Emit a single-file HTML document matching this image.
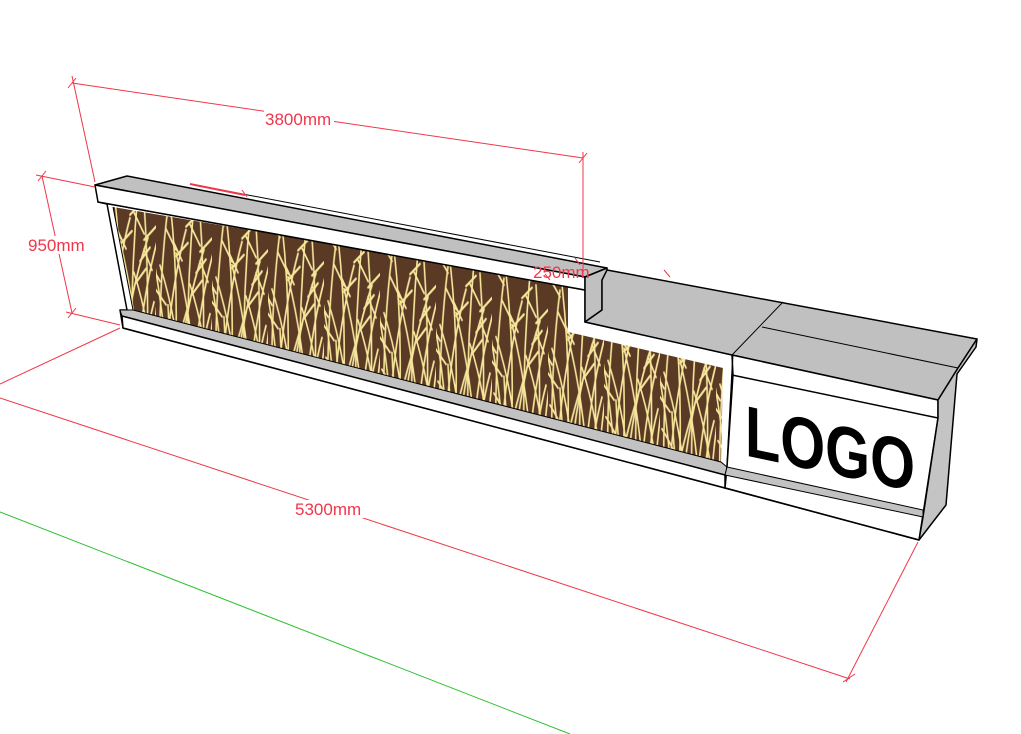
<!DOCTYPE html>
<html><head><meta charset="utf-8"><style>
html,body{margin:0;padding:0;background:#fff;width:1021px;height:734px;overflow:hidden}
svg{display:block}
.d{stroke:#f0364a;stroke-width:1;fill:none}
.t{fill:#f0364a;font-family:"Liberation Sans",sans-serif;font-size:17px}
.k{stroke:#000;stroke-width:1.5;stroke-linejoin:round}
</style></head><body>
<svg width="1021" height="734" viewBox="0 0 1021 734" xmlns="http://www.w3.org/2000/svg">
<defs>
<pattern id="grass" width="56" height="190" patternUnits="userSpaceOnUse" patternTransform="translate(100,180) skewY(12)">
<rect width="56" height="190" fill="#5a3a25"/>
<g transform="scale(1,1.58)" stroke="#f6e69a" stroke-width="1.6" fill="none" stroke-linecap="round">
<path d="M4 120 Q2 60 12 8"/><path d="M8 120 Q14 60 30 20"/><path d="M12 120 Q8 70 -8 26"/>
<path d="M18 120 Q24 60 14 4"/><path d="M22 120 Q28 70 48 30"/><path d="M26 120 Q22 80 4 46"/>
<path d="M32 120 Q30 60 38 2"/><path d="M36 120 Q42 66 60 24"/><path d="M40 120 Q36 76 20 36"/>
<path d="M46 120 Q50 64 44 8"/><path d="M50 120 Q54 76 64 44"/><path d="M54 120 Q50 84 34 54"/>
<path d="M30 120 Q18 96 2 82"/><path d="M48 120 Q58 96 70 86"/><path d="M14 120 Q20 94 34 64"/>
<path d="M42 120 Q44 96 54 70"/><path d="M6 120 Q0 104 -8 90"/><path d="M20 120 Q14 100 12 70"/>
<path d="M20 34 L10 22"/><path d="M20 38 L32 28"/><path d="M44 28 L34 16"/><path d="M44 32 L56 22"/>
<path d="M30 18 L40 10"/><path d="M4 56 L-6 46"/><path d="M52 50 L44 38"/><path d="M12 12 L4 4"/>
<path d="M36 60 L46 50"/><path d="M10 70 L0 62"/><path d="M26 40 L18 30"/><path d="M40 46 L50 36"/>
</g>
</pattern>
</defs>

<line x1="0" y1="512" x2="570" y2="734" stroke="#2ec02e" stroke-width="1"/>

<polygon class="k" fill="#fff" points="98,202 585,290 585,322 733,355 727,467 725,488 123,328 120,310 127,310 107,204"/>
<polygon points="113,207 568,284 568,332 723,368 721,462 133,310" fill="url(#grass)"/>
<polyline points="113,207 133,310" stroke="#000" stroke-width="1" fill="none"/>
<polygon fill="#c2c2c2" stroke="#000" stroke-width="1" points="120,310 133,310 721,462 727,467 725,475 122,316"/>
<polygon class="k" fill="#fff" points="122,316 725,475 725,488 123,328"/>

<polygon class="k" fill="#c0c0c0" points="95,185 127,176 607,268 585,277"/>
<polygon class="k" fill="#fff" points="95,185 585,277 585,290 98,202"/>
<polygon class="k" fill="#c0c0c0" points="585,277 607,268 607,272 602,280 602,310 585,322 585,290"/>
<line x1="190" y1="184" x2="600" y2="262" stroke="#000" stroke-width="1"/>

<polygon class="k" fill="#c0c0c0" points="585,322 602,310 602,280 607,270 977,339 958,368 938,400 732,355"/>
<line x1="783" y1="302" x2="732" y2="355" stroke="#000" stroke-width="1"/>
<line x1="762" y1="327" x2="958" y2="368" stroke="#000" stroke-width="1"/>

<polygon class="k" fill="#fff" points="732,355 938,400 938,418 919,540 725,488 727,467 733,375"/>
<line x1="732" y1="375" x2="938" y2="418" stroke="#000" stroke-width="1.5"/>
<polygon fill="#c2c2c2" stroke="#000" stroke-width="1" points="727,467 923,510 923,517 725,475"/>
<line x1="725" y1="488" x2="919" y2="540" stroke="#000" stroke-width="1.5"/>
<polygon class="k" fill="#c4c4c4" points="938,400 958,368 977,339 976,347 957,374 946,505 919,540 923,517 938,418"/>
<line x1="733" y1="355" x2="727" y2="467" stroke="#000" stroke-width="1"/>

<text x="745" y="455" font-family="Liberation Sans,sans-serif" font-weight="bold" font-size="72" textLength="170" lengthAdjust="spacingAndGlyphs" transform="skewY(12) translate(0,-158)" fill="#000">LOGO</text>

<line class="d" x1="72" y1="83" x2="583" y2="158"/>
<line class="d" x1="72" y1="76" x2="95" y2="182"/>
<line class="d" x1="583" y1="152" x2="583" y2="278"/>
<path class="d" d="M68 88 L76 78 M579 163 L587 153"/>
<rect x="264" y="110" width="70" height="18" fill="#fff"/>
<text class="t" x="265" y="125">3800mm</text>

<line class="d" x1="42" y1="176" x2="72" y2="313"/>
<line class="d" x1="36" y1="175" x2="95" y2="187"/>
<line class="d" x1="66" y1="312" x2="120" y2="325"/>
<path class="d" d="M38 181 L46 171 M68 318 L76 308"/>
<rect x="27" y="236" width="58" height="18" fill="#fff"/>
<text class="t" x="28" y="251">950mm</text>

<line class="d" x1="0" y1="398" x2="850" y2="679"/>
<line class="d" x1="120" y1="328" x2="0" y2="384"/>
<line class="d" x1="918" y1="542" x2="846" y2="682"/>
<path class="d" d="M843 682 L855 674"/>
<rect x="294" y="500" width="70" height="18" fill="#fff"/>
<text class="t" x="295" y="515">5300mm</text>

<text class="t" x="533" y="278" font-size="16">250mm</text>
<path class="d" d="M545 274 L550 280 M575 258 L580 265"/>
<line x1="190" y1="184" x2="245" y2="195" stroke="#f0364a" stroke-width="2"/>
<path class="d" d="M242 190 L247 197 M664 270 L670 277"/>
</svg>
</body></html>
